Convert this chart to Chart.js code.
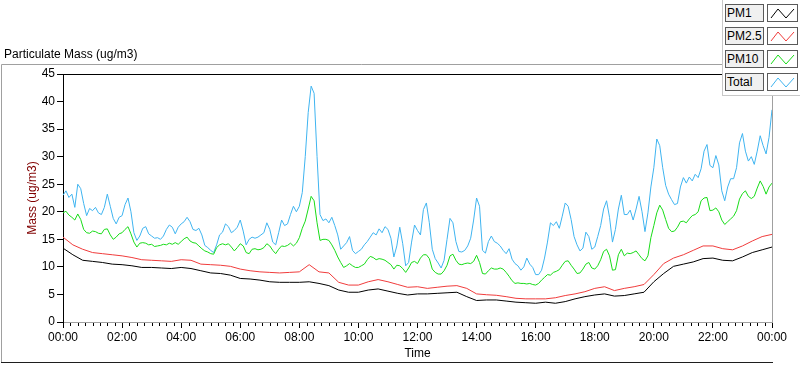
<!DOCTYPE html>
<html><head><meta charset="utf-8">
<script src="https://cdn.jsdelivr.net/npm/chart.js@4.4.0/dist/chart.umd.min.js"></script>
<style>
html,body{margin:0;padding:0;background:#fff;}
#wrap{position:relative;width:800px;height:365px;overflow:hidden;font-family:"Liberation Sans",Arial,sans-serif;}
#c{position:absolute;left:0;top:0;}
#title{position:absolute;left:4px;top:47px;font-size:12px;color:#000;white-space:nowrap;}
#legend{position:absolute;left:722px;top:0;width:77px;height:95px;border-left:1px solid #c8c8c8;border-bottom:1px solid #c8c8c8;background:#fff;}
.lrow{position:absolute;left:2px;height:18px;width:74px;}
.lname{position:absolute;left:0;top:0;width:36px;height:16px;border:1px solid #5a5a5a;background:#f0f0f0;font-size:12px;line-height:16px;padding-left:1px;color:#000;white-space:nowrap;box-sizing:content-box;}
.licon{position:absolute;left:42px;top:0;width:29px;height:16px;border:1px solid #5a5a5a;background:#fff;}
.licon svg{position:absolute;left:0;top:0;}
</style></head>
<body>
<div id="wrap">
<canvas id="c" width="800" height="365"></canvas>
<div id="title">Particulate Mass (ug/m3)</div>
<div id="legend"></div>
</div>
<script>
const SERIES_NAMES = ['PM1', 'PM2.5', 'PM10', 'Total'];
const SERIES_COLORS = ['#000000', '#f03c3c', '#18dc18', '#3fb4f0'];
const X_TICK_LABELS = ['00:00','02:00','04:00','06:00','08:00','10:00','12:00','14:00','16:00','18:00','20:00','22:00','00:00'];
const Y_TITLE = 'Mass (ug/m3)';
const X_TITLE = 'Time';
const FINE_STEP_H = 0.1;      // 6-minute samples (hours)
const COARSE_STEP_H = 1 / 3;  // 20-minute samples (hours)

const pm1 = [
13.4,12.2,11.2, 11.0,10.8,10.5, 10.4,10.2,9.9, 9.9,9.8,9.7, 9.9,9.7,9.3, 8.9,8.8,8.5,
7.9,7.8,7.6, 7.3,7.2,7.2, 7.2,7.3,7.0, 6.6,5.8,5.4, 5.4,5.8,6.0, 5.6,5.2,4.9,
5.1,5.1,5.2, 5.3,5.4,4.6, 3.9,4.0,4.0, 3.8,3.6,3.5, 3.4,3.6,3.4, 3.7,4.2,4.6,
4.9,5.1,4.7, 4.8,5.1,5.4, 7.3,8.8,10.1, 10.5,10.9,11.5, 11.6,11.2,11.1, 11.8,12.6,13.1,
13.6];

const pm25 = [
15.4,14.0,13.2, 12.6,12.4,12.2, 12.0,11.7,11.3, 11.2,11.1,11.0, 11.3,11.2,10.5, 10.4,10.3,10.1,
9.6,9.3,9.1, 9.0,8.9,9.0, 9.1,10.4,9.1, 8.9,7.2,6.7, 6.7,7.3,7.7, 7.3,6.8,6.3,
6.4,6.1,6.3, 6.5,6.6,6.1, 5.1,4.95,4.85, 4.6,4.3,4.2, 4.2,4.2,4.4, 4.8,5.1,5.5,
6.1,6.4,5.7, 6.1,6.4,6.8, 8.6,10.6,11.6, 12.2,13.0,13.8, 13.8,13.3,13.1, 13.8,14.7,15.5,
15.9];

const pm10 = [
19.8,20.1,19.4,19.0,18.5,19.6,18.6,16.8,16.2,16.1,
16.5,16.4,16.1,16.0,16.8,16.9,15.8,15.0,15.4,16.0,
16.2,16.8,17.3,16.0,14.5,13.6,14.3,14.4,14.3,14.0,
14.1,13.7,13.8,13.9,14.1,14.0,14.3,14.1,14.4,14.1,
14.6,15.1,15.4,14.7,14.4,14.3,13.8,13.3,12.9,12.7,
12.4,12.3,13.5,14.0,14.2,14.0,14.2,13.6,12.9,13.5,
14.2,13.8,12.6,12.4,13.2,13.3,13.1,13.2,13.5,14.2,
13.8,13.0,12.4,13.2,13.8,13.7,13.9,14.3,13.8,14.3,
15.3,17.0,18.3,20.5,22.8,22.0,18.0,14.8,15.0,15.0,
14.8,14.0,13.0,11.8,10.8,9.9,10.2,10.6,10.2,9.9,
9.9,10.2,10.5,11.3,11.9,11.7,11.3,11.5,11.4,11.2,
10.8,10.4,9.6,10.3,10.2,9.7,9.0,9.8,10.8,11.0,
10.6,11.6,12.2,12.2,11.5,9.6,9.0,8.7,8.7,9.3,
10.3,12.0,12.3,11.2,10.5,10.4,10.6,10.7,10.6,11.0,
12.1,10.8,8.8,8.7,9.3,9.8,9.6,9.6,9.8,9.6,
9.0,8.3,7.5,7.0,7.1,7.0,7.0,6.9,7.0,6.8,
6.7,7.0,7.6,8.1,8.6,8.5,9.0,9.2,9.5,10.3,
11.0,11.1,10.3,9.6,8.8,8.9,9.6,10.5,10.8,9.8,
9.6,10.2,11.3,12.8,13.2,12.0,9.4,9.5,12.2,13.2,
12.0,12.5,12.4,12.6,12.9,12.2,11.5,11.1,12.0,15.3,
17.5,19.8,21.2,20.3,18.6,17.0,16.4,16.5,17.2,18.2,
18.3,18.0,18.7,19.3,19.5,20.0,22.0,22.5,22.6,20.2,
20.3,20.7,20.0,18.5,17.7,18.2,18.7,19.2,20.2,22.3,
23.3,23.8,22.8,22.4,22.8,24.3,25.6,24.6,23.2,24.5,
25.2];

const total = [
23.0,23.8,22.6,23.2,20.8,25.0,24.2,21.5,19.3,20.6,
20.2,20.8,19.8,19.5,20.8,23.2,21.0,18.8,17.8,19.0,
19.3,21.3,22.5,20.0,16.2,14.8,15.6,17.0,17.3,16.0,
15.6,15.2,15.3,15.0,15.6,16.8,17.6,17.2,16.0,17.2,
17.8,18.2,19.0,18.2,16.8,16.6,17.0,15.8,13.9,13.5,
13.0,12.6,14.0,15.8,16.3,17.8,17.3,16.2,16.6,17.2,
18.5,16.5,14.0,15.0,15.4,15.2,15.4,15.8,16.2,18.0,
16.8,14.5,14.0,16.2,18.5,17.5,17.8,19.5,21.0,20.0,
21.0,23.5,30.0,38.0,42.8,41.5,30.0,19.5,18.4,18.7,
18.0,19.0,17.5,15.8,13.2,13.8,14.4,15.5,13.0,12.4,
12.8,13.2,14.0,14.6,15.4,16.2,15.8,16.9,16.2,17.3,
16.8,15.2,11.8,13.8,17.2,14.2,10.2,10.8,14.5,17.6,
16.6,15.8,20.4,21.6,18.0,13.2,11.5,10.7,9.8,11.2,
15.0,18.8,18.0,14.6,12.8,12.7,13.0,13.8,15.2,18.5,
22.5,21.0,13.0,12.5,14.6,15.6,14.6,14.3,13.8,13.0,
12.4,13.3,11.4,10.6,10.2,9.4,10.0,11.6,10.5,9.9,
8.6,8.6,9.4,11.6,14.5,18.0,17.5,18.2,17.0,19.2,
21.6,21.0,18.6,15.5,14.0,12.9,13.4,16.3,15.5,13.2,
13.6,15.5,17.5,20.5,22.0,19.0,14.5,16.8,20.5,23.0,
19.5,19.5,20.3,18.5,20.5,22.8,20.0,16.4,19.8,24.5,
28.0,33.2,32.0,28.0,24.8,23.2,22.2,21.3,21.5,24.5,
26.2,25.2,26.3,25.6,26.8,26.2,27.8,31.0,32.2,28.4,
28.0,30.2,28.5,23.8,22.0,24.5,26.0,26.0,28.0,32.5,
34.2,31.0,29.2,30.0,28.6,31.0,33.8,32.0,30.5,33.5,
38.5];

function toPoints(vals, step) { return vals.map((v, i) => ({ x: i * step, y: v })); }

const seriesData = [toPoints(pm1, COARSE_STEP_H), toPoints(pm25, COARSE_STEP_H), toPoints(pm10, FINE_STEP_H), toPoints(total, FINE_STEP_H)];

// HTML legend
const legend = document.getElementById('legend');
SERIES_NAMES.forEach((name, i) => {
  const row = document.createElement('div');
  row.className = 'lrow';
  row.style.top = (4 + i * 23) + 'px';
  row.innerHTML = '<div class="lname">' + name + '</div>' +
    '<div class="licon"><svg width="29" height="16"><polyline points="3,13 10,4 18,13 26,4" fill="none" stroke="' + SERIES_COLORS[i] + '" stroke-width="1"/></svg></div>';
  legend.appendChild(row);
});

const framePlugin = {
  id: 'frame',
  beforeDraw(chart) {
    const ctx = chart.ctx;
    ctx.save();
    ctx.lineWidth = 1;
    ctx.strokeStyle = '#a0a0a0';
    ctx.beginPath(); ctx.moveTo(1.5, 363); ctx.lineTo(1.5, 64.5); ctx.lineTo(722, 64.5); ctx.stroke();
    ctx.strokeStyle = '#1e1e1e';
    ctx.beginPath(); ctx.moveTo(1, 362.5); ctx.lineTo(773, 362.5); ctx.stroke();
    ctx.restore();
  },
  afterDraw(chart) {
    const { ctx, chartArea: a, scales: { x } } = chart;
    ctx.save();
    ctx.lineWidth = 1;
    ctx.strokeStyle = '#000';
    ctx.beginPath(); ctx.moveTo(a.left, a.top + 0.5); ctx.lineTo(a.right + 1, a.top + 0.5); ctx.stroke();
    ctx.strokeStyle = '#a0a0a0';
    ctx.beginPath(); ctx.moveTo(a.right + 0.5, a.top); ctx.lineTo(a.right + 0.5, a.bottom + 1); ctx.stroke();
    ctx.strokeStyle = '#000';
    for (let m = 0; m <= 96; m++) {
      if (m % 8 === 0) continue;
      const px = Math.round(x.getPixelForValue(m / 4)) + 0.5;
      ctx.beginPath(); ctx.moveTo(px, a.bottom + 1); ctx.lineTo(px, a.bottom + 4); ctx.stroke();
    }
    ctx.restore();
  }
};

const font = { family: '"Liberation Sans", Arial, sans-serif', size: 12 };

new Chart(document.getElementById('c'), {
  type: 'line',
  data: {
    datasets: SERIES_NAMES.map((n, i) => ({
      label: n,
      data: seriesData[i],
      borderColor: SERIES_COLORS[i],
      backgroundColor: SERIES_COLORS[i],
      borderWidth: 1,
      pointRadius: 0,
      tension: 0,
      fill: false
    }))
  },
  options: {
    responsive: false,
    devicePixelRatio: 1,
    animation: false,
    layout: { padding: { top: 74, right: 28, left: 0, bottom: 0 } },
    plugins: { legend: { display: false }, tooltip: { enabled: false } },
    scales: {
      x: {
        type: 'linear', min: 0, max: 24,
        afterFit(s) { s.height = 43; },
        ticks: { stepSize: 2, autoSkip: false, maxRotation: 0, color: '#000', font, padding: 2,
          callback: (v) => X_TICK_LABELS[Math.round(v / 2)] },
        grid: { drawOnChartArea: false, drawTicks: true, tickLength: 6, tickColor: '#000', color: '#000' },
        border: { display: true, color: '#a0a0a0' },
        title: { display: true, text: X_TITLE, color: '#000', font, padding: { top: 0, bottom: 4 } }
      },
      y: {
        min: 0, max: 45,
        afterFit(s) { s.width = 63; },
        ticks: { stepSize: 5, color: '#000', font, padding: 2 },
        grid: { drawOnChartArea: false, drawTicks: true, tickLength: 6, tickColor: '#000', color: '#000' },
        border: { display: true, color: '#000' },
        title: { display: true, text: Y_TITLE, color: '#800000', font, padding: { top: 25, bottom: 0 } }
      }
    }
  },
  plugins: [framePlugin]
});
</script>
</body></html>
